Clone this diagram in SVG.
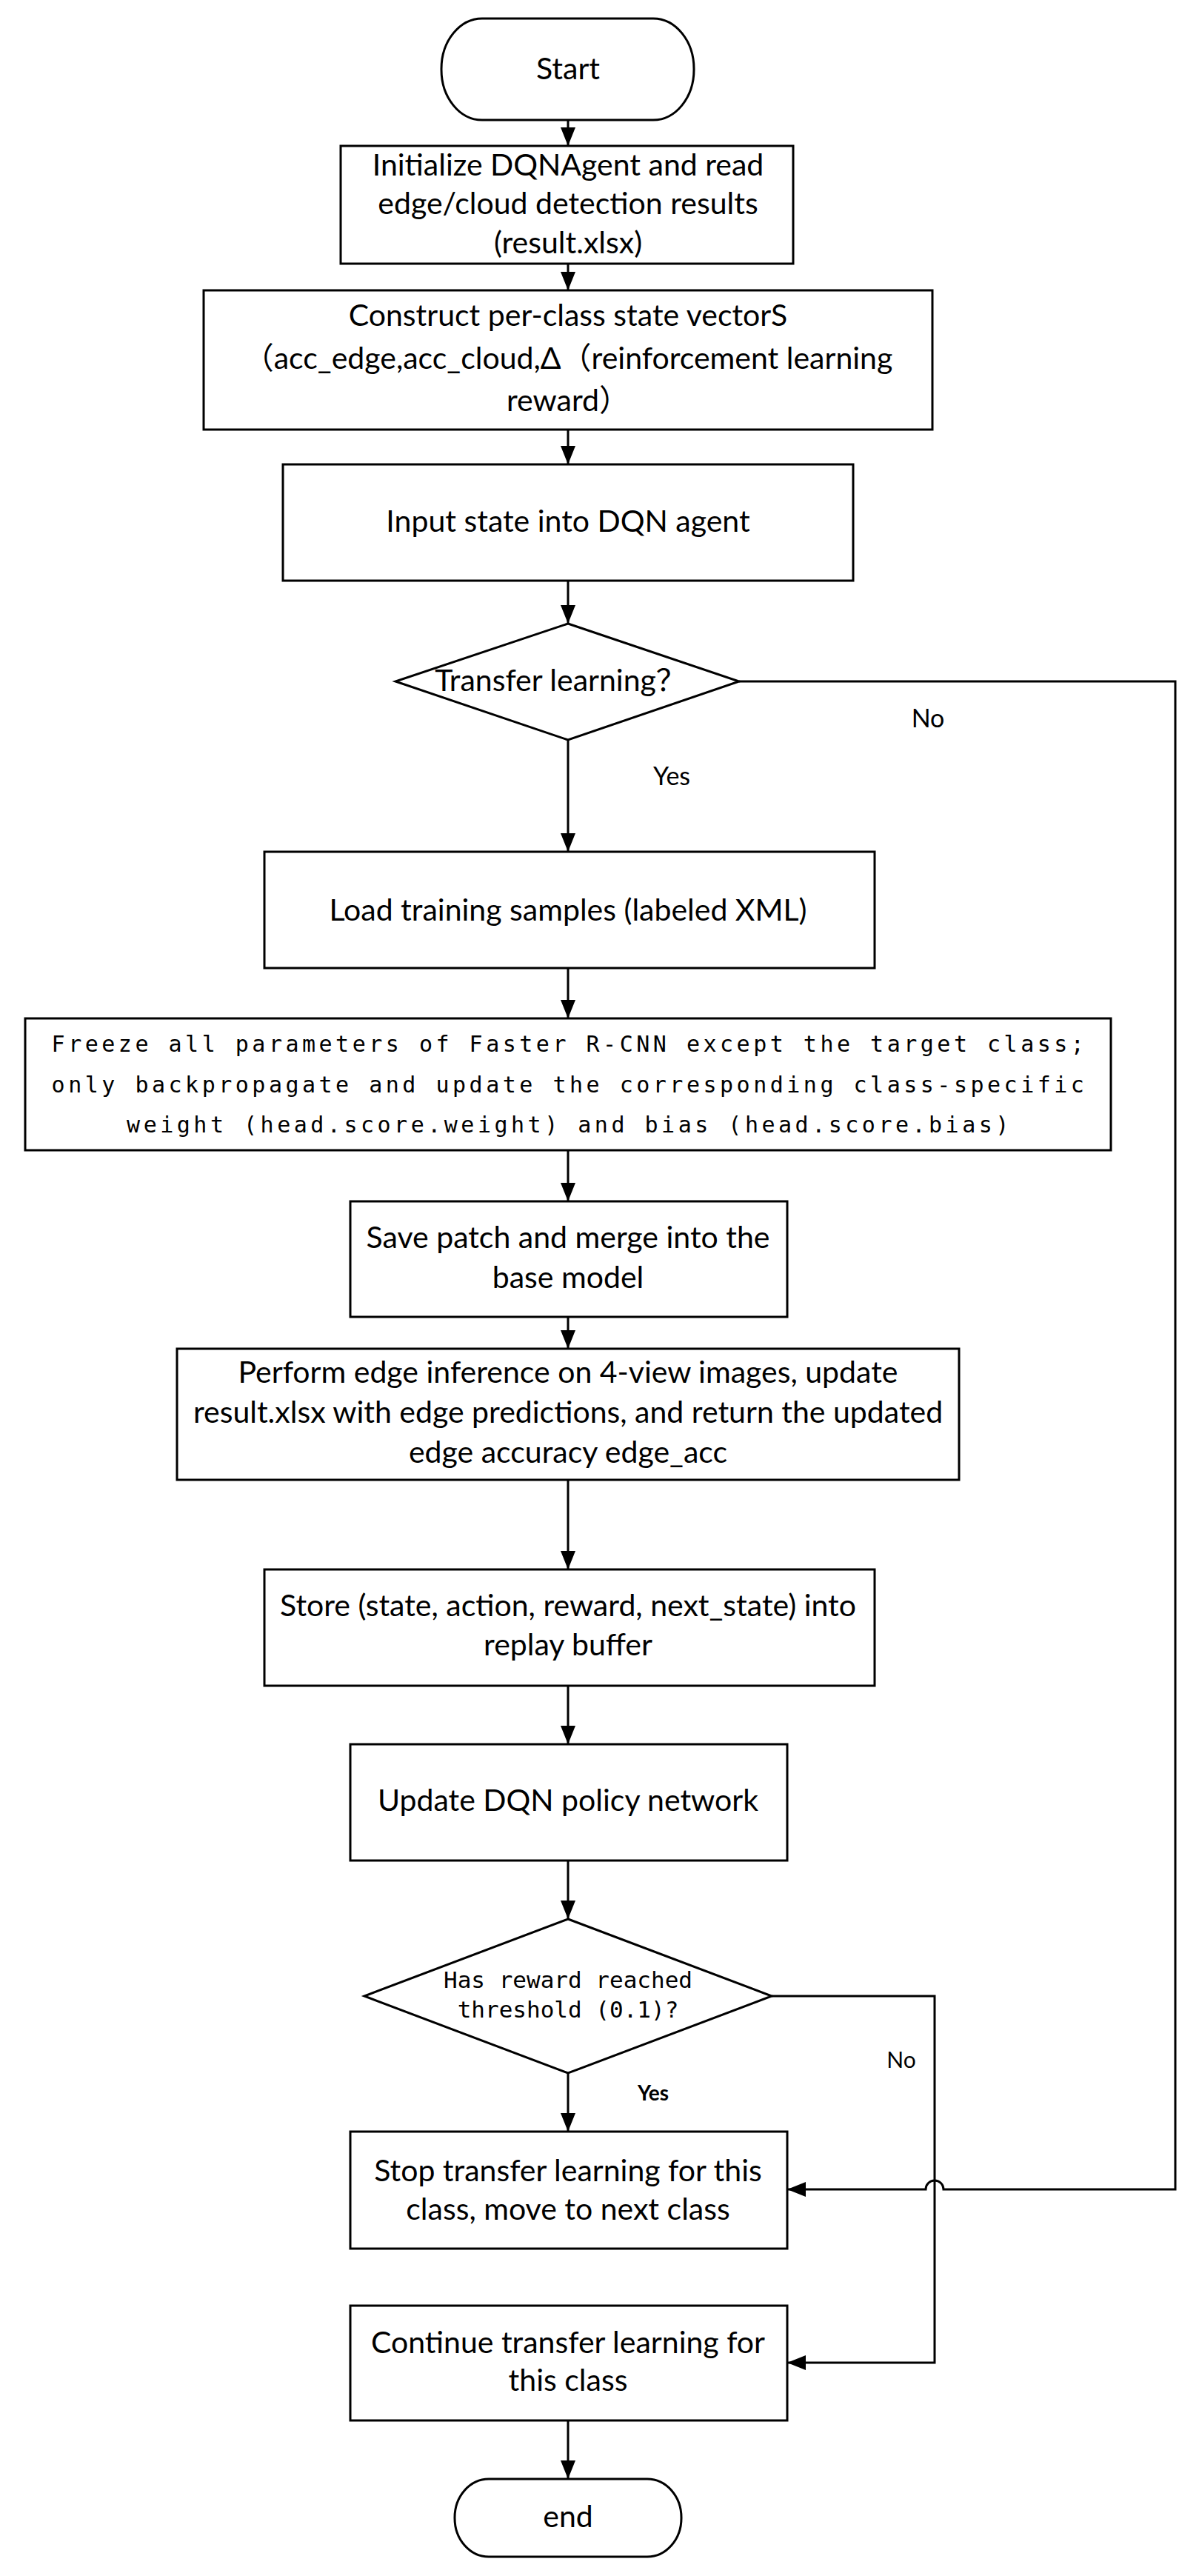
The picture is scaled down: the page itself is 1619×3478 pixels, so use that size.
<svg xmlns="http://www.w3.org/2000/svg" width="1619" height="3478" viewBox="0 0 1619 3478">
<style>
.bg{fill:#fff}
.n{fill:#fff;stroke:#000;stroke-width:3}
.c{fill:none;stroke:#000;stroke-width:3}
.t{font-family:Lato,"Noto Sans CJK SC",sans-serif;font-size:41px;text-anchor:middle;fill:#000}
.lb{font-family:Lato,"Noto Sans CJK SC",sans-serif;font-size:34px;text-anchor:middle;fill:#000}
.m{font-family:"DejaVu Sans Mono","Liberation Mono",monospace;text-anchor:middle;fill:#000}
.fz{font-size:30px;letter-spacing:4.5px}
</style>
<defs>
<marker id="ah" markerUnits="userSpaceOnUse" markerWidth="25" markerHeight="20" refX="25" refY="10" orient="auto">
<path d="M0,0 L25,10 L0,20 z" fill="#000"/>
</marker>
</defs>
<rect class="bg" x="0" y="0" width="1619" height="3478"/>

<g id="connectors">
<path class="c" d="M767,162 V197" marker-end="url(#ah)"/>
<path class="c" d="M767,356 V392" marker-end="url(#ah)"/>
<path class="c" d="M767,580 V627" marker-end="url(#ah)"/>
<path class="c" d="M767,784 V842" marker-end="url(#ah)"/>
<path class="c" d="M767,999 V1150" marker-end="url(#ah)"/>
<path class="c" d="M767,1307 V1375" marker-end="url(#ah)"/>
<path class="c" d="M767,1553 V1622" marker-end="url(#ah)"/>
<path class="c" d="M767,1778 V1821" marker-end="url(#ah)"/>
<path class="c" d="M767,1998 V2119" marker-end="url(#ah)"/>
<path class="c" d="M767,2276 V2355" marker-end="url(#ah)"/>
<path class="c" d="M767,2512 V2591" marker-end="url(#ah)"/>
<path class="c" d="M767,2799 V2878" marker-end="url(#ah)"/>
<path class="c" d="M767,3268 V3347" marker-end="url(#ah)"/>
<path class="c" d="M998,920 H1587 V2956 H1274 A12,12 0 0 0 1250,2956 H1063" marker-end="url(#ah)"/>
<path class="c" d="M1042,2695 H1262 V3190 H1063" marker-end="url(#ah)"/>
<text class="lb" x="1253" y="982">No</text>
<text class="lb" x="907" y="1060">Yes</text>
<text class="lb" x="1217" y="2792" style="font-size:30px">No</text>
<text class="lb" x="882" y="2836" style="font-size:28px;font-weight:bold">Yes</text>
</g>

<g id="start">
<rect class="n" x="596" y="25" width="341" height="137" rx="55" ry="68"/>
<text class="t" x="767" y="107">Start</text>
</g>

<g id="init">
<rect class="n" x="460" y="197" width="611" height="159"/>
<text class="t" x="767" y="237">Initialize DQNAgent and read</text>
<text class="t" x="767" y="289">edge/cloud detection results</text>
<text class="t" x="767" y="342">(result.xlsx)</text>
</g>

<g id="construct">
<rect class="n" x="275" y="392" width="984" height="188"/>
<text class="t" x="767" y="440">Construct per-class state vectorS</text>
<text class="t" x="767" y="498">（acc_edge,acc_cloud,Δ（reinforcement learning</text>
<text class="t" x="767" y="555">reward）</text>
</g>

<g id="input">
<rect class="n" x="382" y="627" width="770" height="157"/>
<text class="t" x="767" y="718">Input state into DQN agent</text>
</g>

<g id="transfer">
<polygon class="n" points="767,842 998,920 767,999 534,920"/>
<text class="t" x="757" y="933">Transfer learning？</text>
</g>

<g id="load">
<rect class="n" x="357" y="1150" width="824" height="157"/>
<text class="t" x="767" y="1243">Load training samples (labeled XML)</text>
</g>

<g id="freeze">
<rect class="n" x="34" y="1375" width="1466" height="178"/>
<text class="m fz" x="769" y="1420">Freeze all parameters of Faster R-CNN except the target class;</text>
<text class="m fz" x="769" y="1475">only backpropagate and update the corresponding class-specific</text>
<text class="m fz" x="769" y="1529">weight (head.score.weight) and bias (head.score.bias)</text>
</g>

<g id="save">
<rect class="n" x="473" y="1622" width="590" height="156"/>
<text class="t" x="767" y="1685">Save patch and merge into the</text>
<text class="t" x="767" y="1739">base model</text>
</g>

<g id="perform">
<rect class="n" x="239" y="1821" width="1056" height="177"/>
<text class="t" x="767" y="1867">Perform edge inference on 4-view images, update</text>
<text class="t" x="767" y="1921">result.xlsx with edge predictions, and return the updated</text>
<text class="t" x="767" y="1975">edge accuracy edge_acc</text>
</g>

<g id="store">
<rect class="n" x="357" y="2119" width="824" height="157"/>
<text class="t" x="767" y="2182">Store (state, action, reward, next_state) into</text>
<text class="t" x="767" y="2235">replay buffer</text>
</g>

<g id="update">
<rect class="n" x="473" y="2355" width="590" height="157"/>
<text class="t" x="767" y="2445">Update DQN policy network</text>
</g>

<g id="reward">
<polygon class="n" points="767,2591 1042,2695 767,2799 492,2695"/>
<text class="m" x="767" y="2684" style="font-size:31px">Has reward reached</text>
<text class="m" x="767" y="2724" style="font-size:31px">threshold (0.1)?</text>
</g>

<g id="stop">
<rect class="n" x="473" y="2878" width="590" height="158"/>
<text class="t" x="767" y="2945">Stop transfer learning for this</text>
<text class="t" x="767" y="2997">class, move to next class</text>
</g>

<g id="continue">
<rect class="n" x="473" y="3113" width="590" height="155"/>
<text class="t" x="767" y="3177">Continue transfer learning for</text>
<text class="t" x="767" y="3228">this class</text>
</g>

<g id="end">
<rect class="n" x="614" y="3347" width="306" height="105" rx="46" ry="52"/>
<text class="t" x="767" y="3412">end</text>
</g>
</svg>
